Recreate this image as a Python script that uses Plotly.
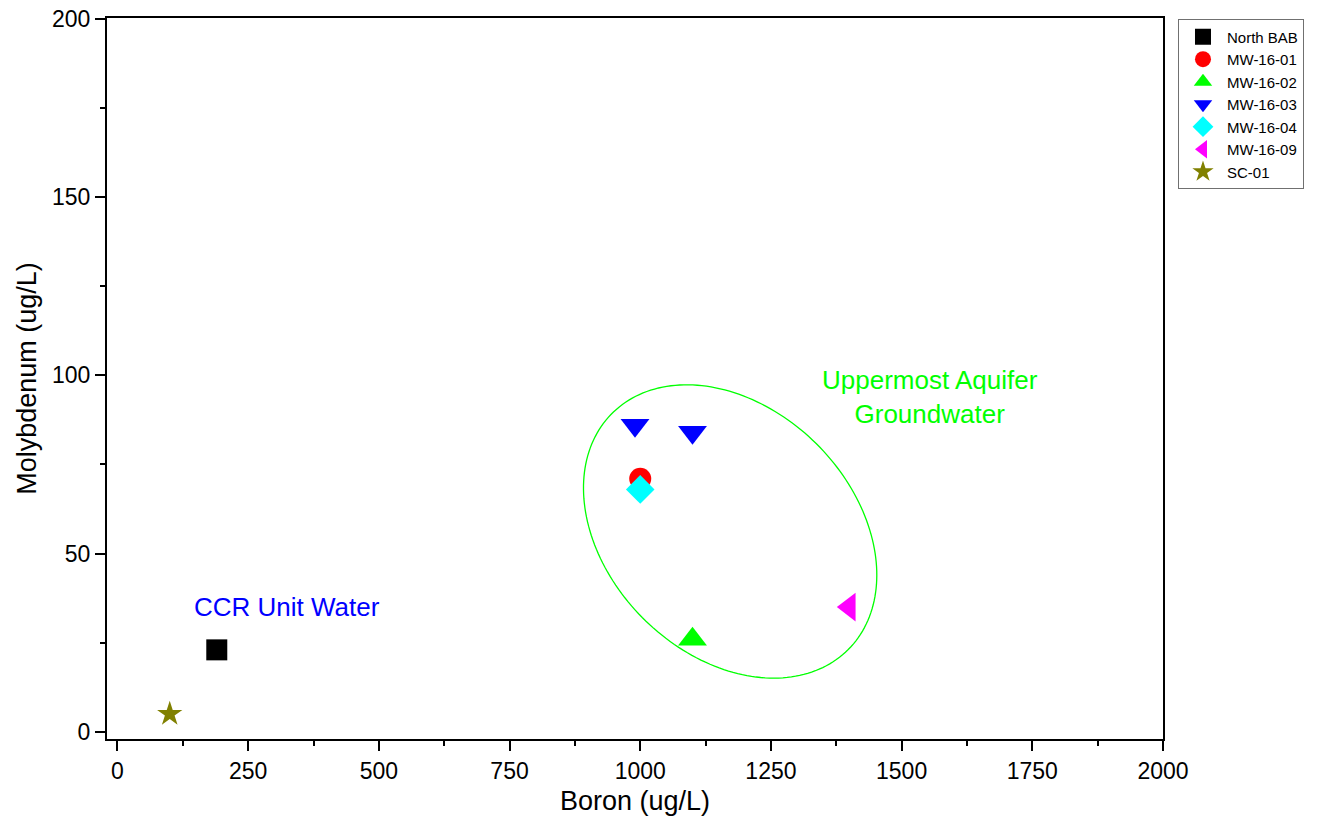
import numpy as np
import plotly.graph_objects as go

# ---- data ----
series_names = ["North BAB", "MW-16-01", "MW-16-02", "MW-16-03", "MW-16-04", "MW-16-09", "SC-01"]
boron = [[190], [1000], [1100], [990, 1100], [1000], [1400], [100]]
molybdenum = [[23], [71], [26], [86, 84], [68], [35], [5]]
symbols = ["square", "circle", "triangle-up", "triangle-down", "diamond", "triangle-left", "star"]
colors = ["#000000", "#FF0000", "#00FF00", "#0000FF", "#00FFFF", "#FF00FF", "#808000"]
sizes = [21, 22, 25, 25, 22, 25, 19]

x_ticks = [0, 250, 500, 750, 1000, 1250, 1500, 1750, 2000]
y_ticks = [0, 50, 100, 150, 200]
x_range = [-20, 2000]
y_range = [-2, 200.2]

W, H = 1329, 832
margin = dict(l=107, r=166, t=18, b=93, autoexpand=False)
plot_w = W - margin["l"] - margin["r"]
plot_h = H - margin["t"] - margin["b"]
px_x = plot_w / (x_range[1] - x_range[0])
px_y = plot_h / (y_range[1] - y_range[0])

font_family = "Arial, Liberation Sans, sans-serif"

fig = go.Figure()
for name, xs, ys, sym, col, sz in zip(series_names, boron, molybdenum, symbols, colors, sizes):
    fig.add_trace(go.Scatter(
        x=xs, y=ys, mode="markers", name=name,
        marker=dict(symbol=sym, color=col, size=sz, line=dict(width=0)),
    ))

# ellipse around groundwater group (center in data units, semi-axes in pixels, screen angle)
ell_center = (1172, 56.2)
ell_a, ell_b, ell_ang = 167, 123, np.deg2rad(45)
t = np.linspace(0, 2 * np.pi, 200)
dx = ell_a * np.cos(ell_ang) * np.cos(t) - ell_b * np.sin(ell_ang) * np.sin(t)
dy = ell_a * np.sin(ell_ang) * np.cos(t) + ell_b * np.cos(ell_ang) * np.sin(t)
ex = ell_center[0] + dx / px_x
ey = ell_center[1] - dy / px_y
path = "M " + " L ".join(f"{a:.3f},{b:.3f}" for a, b in zip(ex, ey)) + " Z"
fig.add_shape(type="path", path=path, xref="x", yref="y",
              line=dict(color="#00FF00", width=1.3), layer="above")

fig.add_annotation(x=1555, y=94, text="Uppermost Aquifer<br>Groundwater", showarrow=False,
                   font=dict(size=26, color="#00FF00", family=font_family),
                   xanchor="center", yanchor="middle", align="center")
fig.add_annotation(x=324, y=35, text="CCR Unit Water", showarrow=False,
                   font=dict(size=26, color="#0000FF", family=font_family),
                   xanchor="center", yanchor="middle")

axis_common = dict(
    showline=True, linecolor="black", linewidth=2, mirror=True,
    ticks="outside", ticklen=10, tickwidth=1.5, tickcolor="black",
    showgrid=False, zeroline=False,
    tickfont=dict(size=23, color="black", family=font_family),
)

fig.update_xaxes(range=x_range, tickvals=x_ticks, ticktext=[str(v) for v in x_ticks],
                 title=dict(text="Boron (ug/L)", font=dict(size=27, color="black", family=font_family), standoff=9),
                 minor=dict(ticks="outside", ticklen=5, tickwidth=1.5, tickcolor="black", dtick=125, tick0=0),
                 **axis_common)
fig.update_yaxes(range=y_range, tickvals=y_ticks, ticktext=[str(v) for v in y_ticks],
                 title=dict(text="Molybdenum (ug/L)", font=dict(size=27, color="black", family=font_family), standoff=8),
                 minor=dict(ticks="outside", ticklen=5, tickwidth=1.5, tickcolor="black", dtick=25, tick0=0),
                 **axis_common)

fig.update_layout(
    width=W, height=H, margin=margin,
    plot_bgcolor="white", paper_bgcolor="white",
    font=dict(family=font_family, color="black"),
    legend=dict(x=1.0142, y=0.998, xanchor="left", yanchor="top",
                bordercolor="#707070", borderwidth=1, bgcolor="white",
                font=dict(size=15, color="black", family=font_family),
                tracegroupgap=0, itemsizing="trace", itemwidth=38),
    showlegend=True,
)

fig.write_html("out.html")
